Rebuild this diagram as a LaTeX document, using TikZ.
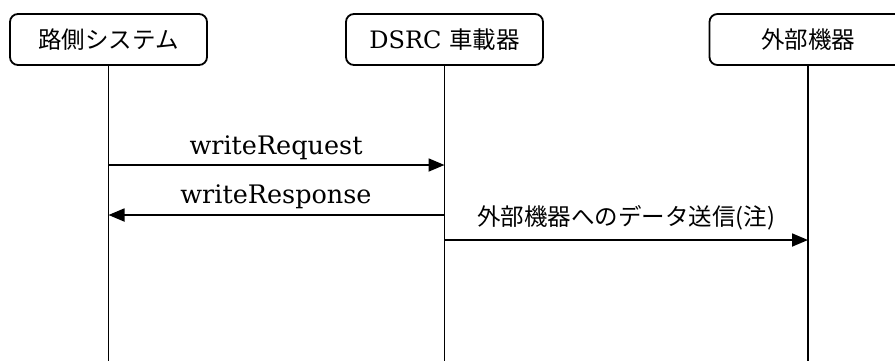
\documentclass[tikz,border=0pt]{standalone}
\usepackage{fontspec}
\setmainfont{DejaVu Serif}
\newfontfamily\jp{Noto Sans CJK JP}
\usetikzlibrary{arrows.meta}
\begin{document}
\begin{tikzpicture}[x=1pt,y=-1pt,
  actor/.style={draw, line width=1.8pt, rounded corners=8pt, minimum width=197pt,
    minimum height=51pt, inner sep=0pt, font=\fontsize{24}{28}\selectfont},
  life/.style={line width=1.8pt},
  msg/.style={line width=1.8pt, -{Triangle[length=16pt,width=13pt]}},
  lbl/.style={font=\fontsize{25.5}{30}\selectfont, inner sep=0pt, anchor=base},
  jlbl/.style={font=\fontsize{23.5}{28}\selectfont\jp, inner sep=0pt}]
\clip (0,0) rectangle (895,360);
\node[actor] (A) at (108.5,39.5) {\fontsize{23.5}{28}\selectfont\jp 路側システム\hspace{14pt}};
\node[actor] (B) at (444.5,39.5) {DSRC {\fontsize{23.5}{28}\selectfont\jp 車載器}};
\node[actor] (C) at (808,39.5) {\fontsize{23.5}{28}\selectfont\jp 外部機器};
\coordinate (Aend) at (108.5,362);
\coordinate (Bend) at (444.5,362);
\coordinate (Cend) at (808,362);
\draw[life] (A.south) -- (Aend);
\draw[life] (B.south) -- (Bend);
\draw[life] (C.south) -- (Cend);
\coordinate (A1) at (108.5,165);
\coordinate (B1) at (444.5,165);
\coordinate (A2) at (108.5,215);
\coordinate (B2) at (444.5,215);
\coordinate (B3) at (444.5,240);
\coordinate (C3) at (808,240);
\draw[msg] (A1) -- (B1);
\draw[msg] (B2) -- (A2);
\draw[msg] (B3) -- (C3);
\node[lbl] (L1) at (276,154) {writeRequest};
\node[lbl] (L2) at (276,203) {writeResponse};
\node[jlbl] (L3) at (626,218) {外部機器へのデータ送信(注)};
\end{tikzpicture}
\end{document}
